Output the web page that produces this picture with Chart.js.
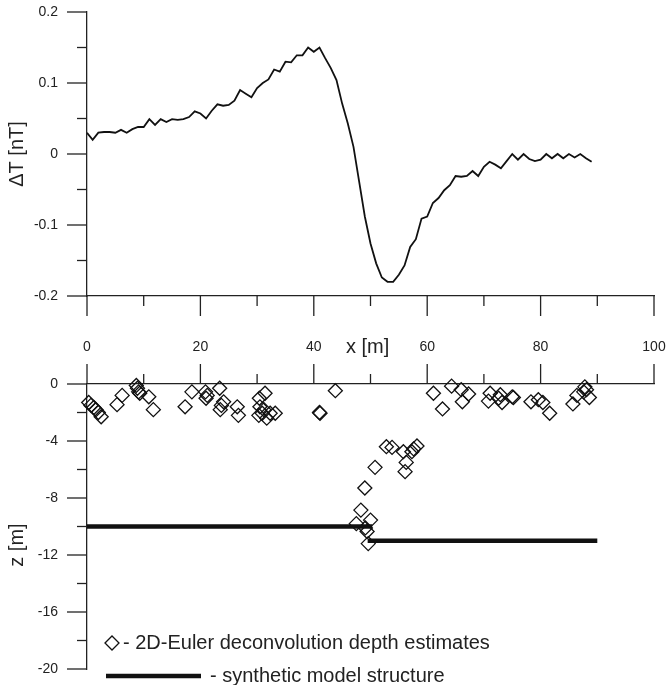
<!DOCTYPE html>
<html>
<head>
<meta charset="utf-8">
<script src="https://cdn.jsdelivr.net/npm/chart.js@4.4.0/dist/chart.umd.min.js"></script>
<style>
  body { margin: 0; background: #fff; }
  #wrap { position: relative; width: 668px; height: 685px; }
  #topChart { position: absolute; left: 0; top: 0; }
  #bottomChart { position: absolute; left: 0; top: 330px; }
</style>
</head>
<body>
<div id="wrap">
  <canvas id="topChart" width="668" height="330"></canvas>
  <canvas id="bottomChart" width="668" height="355"></canvas>
</div>
<script>
// magnetic anomaly profile (top panel)
const profileX = [0, 1, 2, 3, 4, 5, 6, 7, 8, 9, 10, 11, 12, 13, 14, 15, 16, 17, 18, 19,
  20, 21, 22, 23, 24, 25, 26, 27, 28, 29, 30, 31, 32, 33, 34, 35, 36, 37, 38, 39,
  40, 41, 42, 43, 44, 45, 46, 47, 48, 49, 50, 51, 52, 53, 54, 55, 56, 57, 58, 59,
  60, 61, 62, 63, 64, 65, 66, 67, 68, 69, 70, 71, 72, 73, 74, 75, 76, 77, 78, 79,
  80, 81, 82, 83, 84, 85, 86, 87, 88, 89];
const profileT = [0.030, 0.020, 0.030, 0.031, 0.031, 0.030, 0.034, 0.030, 0.035, 0.038,
  0.038, 0.049, 0.041, 0.049, 0.045, 0.049, 0.048, 0.049, 0.052, 0.060,
  0.057, 0.050, 0.061, 0.070, 0.068, 0.069, 0.075, 0.090, 0.085, 0.080,
  0.093, 0.100, 0.105, 0.119, 0.116, 0.130, 0.129, 0.139, 0.139, 0.150,
  0.144, 0.150, 0.135, 0.121, 0.104, 0.071, 0.043, 0.010, -0.039, -0.088,
  -0.126, -0.154, -0.174, -0.180, -0.180, -0.170, -0.157, -0.131, -0.120, -0.091,
  -0.088, -0.069, -0.062, -0.051, -0.044, -0.031, -0.032, -0.031, -0.024, -0.031,
  -0.018, -0.011, -0.015, -0.020, -0.010, 0.000, -0.008, 0.000, -0.007, -0.010,
  -0.008, 0.000, -0.006, 0.000, -0.006, 0.000, -0.005, 0.000, -0.006, -0.011];

// Euler depth estimates (bottom panel)
const eulerX = [0.3, 0.7, 1.2, 1.6, 2.0, 2.5, 5.3, 6.2, 8.7, 8.9, 9.1, 9.3, 10.9, 11.7,
  17.3, 18.5, 20.9, 21.2, 21.0, 23.4, 24.1, 23.5, 23.7, 26.5, 26.7,
  30.4, 31.4, 30.5, 30.9, 30.3, 31.7, 32.3, 33.2, 31.2, 41.1, 41.0, 43.8,
  52.8, 53.8, 55.8, 57.3, 58.2, 57.6, 56.3, 56.1, 50.8, 49.0, 48.3, 50.0, 47.5, 49.1, 49.4, 49.6,
  61.1, 62.7, 64.3, 66.0, 66.2, 67.3, 71.1, 70.8, 72.9, 73.2, 72.6, 75.2, 75.0,
  78.3, 79.6, 80.4, 81.6, 85.7, 86.4, 87.8, 88.1, 87.6, 88.6];
const eulerZ = [-1.3, -1.5, -1.65, -1.8, -2.0, -2.3, -1.45, -0.8, -0.1, -0.3, -0.55, -0.65, -0.9, -1.8,
  -1.6, -0.55, -0.55, -0.8, -1.0, -0.3, -1.25, -1.8, -1.5, -1.6, -2.2,
  -1.0, -0.65, -1.6, -2.05, -2.2, -2.4, -2.05, -2.05, -1.8, -2.05, -2.0, -0.47,
  -4.4, -4.45, -4.75, -4.75, -4.35, -4.55, -5.5, -6.15, -5.85, -7.3, -8.85, -9.55, -9.8, -10.1, -10.35, -11.2,
  -0.65, -1.75, -0.15, -0.4, -1.25, -0.7, -0.65, -1.2, -0.75, -1.3, -1.0, -0.95, -0.9,
  -1.25, -1.1, -1.3, -2.05, -1.4, -0.8, -0.2, -0.4, -0.55, -0.95];

// synthetic model structure
const modelUpperX = [0, 50.3];
const modelUpperZ = [-10, -10];
const modelLowerX = [49.5, 90];
const modelLowerZ = [-11, -11];

const FONT = "'Liberation Sans', Arial, sans-serif";
const INK = "#111";
const AXIS_COLOR = "#222";

const toPoints = (xs, ys) => xs.map((x, i) => ({ x: x, y: ys[i] }));

// invisible tick space so labels sit away from the axis (ticks.padding would shrink the plot)
const spacer = (len) => ({
  display: true,
  drawOnChartArea: false,
  drawTicks: true,
  tickLength: len,
  tickColor: "rgba(0,0,0,0)",
  color: "rgba(0,0,0,0)",
});

// major / minor tick marks drawn from the scales
const tickMarks = {
  id: "tickMarks",
  afterDraw(chart, args, opts) {
    const ctx = chart.ctx;
    const area = chart.chartArea;
    ctx.save();
    ctx.strokeStyle = AXIS_COLOR;
    ctx.lineWidth = 1.3;
    opts.axes.forEach((a) => {
      const scale = chart.scales[a.id];
      const n = Math.round((scale.max - scale.min) / a.minor);
      for (let i = 0; i <= n; i++) {
        const v = scale.min + i * a.minor;
        const isMajor = Math.abs(v / a.major - Math.round(v / a.major)) < 1e-6;
        const len = isMajor ? 20 : 10;
        const p = scale.getPixelForValue(v);
        ctx.beginPath();
        if (a.side === "left") {
          ctx.moveTo(area.left, p);
          ctx.lineTo(area.left - len, p);
        } else if (a.side === "bottom") {
          ctx.moveTo(p, area.bottom);
          ctx.lineTo(p, area.bottom + len);
        } else {
          ctx.moveTo(p, area.top);
          ctx.lineTo(p, area.top - len);
        }
        ctx.stroke();
      }
    });
    ctx.restore();
  },
};

// axis titles and legend of the lower panel
const lowerDecor = {
  id: "lowerDecor",
  afterDraw(chart) {
    const ctx = chart.ctx;
    const xs = chart.scales.x;
    const ys = chart.scales.y;
    const area = chart.chartArea;
    ctx.save();
    ctx.fillStyle = "#222";
    ctx.font = "20px " + FONT;
    ctx.textBaseline = "middle";
    ctx.textAlign = "center";
    ctx.fillText("x [m]", xs.getPixelForValue(49.5), area.top - 37);

    ctx.save();
    ctx.translate(17, ys.getPixelForValue(-11.3));
    ctx.rotate(-Math.PI / 2);
    ctx.fillText("z [m]", 0, 0);
    ctx.restore();

    // legend
    ctx.textAlign = "left";
    const ly1 = area.bottom - 26;
    const ly2 = area.bottom + 7;
    ctx.strokeStyle = INK;
    ctx.lineWidth = 1.3;
    ctx.beginPath();
    ctx.moveTo(105, ly1);
    ctx.lineTo(112, ly1 - 7);
    ctx.lineTo(119, ly1);
    ctx.lineTo(112, ly1 + 7);
    ctx.closePath();
    ctx.stroke();
    ctx.fillText("- 2D-Euler deconvolution depth estimates", 123, ly1);

    ctx.lineWidth = 4.5;
    ctx.beginPath();
    ctx.moveTo(106, ly2);
    ctx.lineTo(201, ly2);
    ctx.stroke();
    ctx.fillText("- synthetic model structure", 210, ly2);
    ctx.restore();
  },
};

Chart.defaults.font.family = FONT;
Chart.defaults.color = "#222";

new Chart(document.getElementById("topChart"), {
  type: "line",
  data: {
    datasets: [
      {
        data: toPoints(profileX, profileT),
        borderColor: INK,
        borderWidth: 1.8,
        pointRadius: 0,
        tension: 0,
        fill: false,
      },
    ],
  },
  options: {
    responsive: false,
    animation: false,
    layout: { padding: { top: 12, right: 14, bottom: 0, left: 0 } },
    plugins: {
      legend: { display: false },
      tooltip: { enabled: false },
      tickMarks: {
        axes: [
          { id: "y", side: "left", minor: 0.05, major: 0.1 },
          { id: "x", side: "bottom", minor: 10, major: 20 },
        ],
      },
    },
    scales: {
      x: {
        type: "linear",
        min: 0,
        max: 100,
        position: "bottom",
        grid: { display: false, drawTicks: false },
        border: { display: true, color: AXIS_COLOR, width: 1.3 },
        ticks: { display: false, stepSize: 10, padding: 0 },
        afterFit: (s) => { s.height = 34; },
      },
      y: {
        min: -0.2,
        max: 0.2,
        grid: spacer(29),
        border: { display: true, color: AXIS_COLOR, width: 1.3 },
        ticks: {
          stepSize: 0.1,
          padding: 0,
          font: { size: 14 },
          callback: (v) => String(+v.toFixed(1)),
        },
        title: {
          display: true,
          text: "ΔT [nT]",
          font: { size: 20 },
          padding: { top: 5, bottom: 0 },
        },
        afterFit: (s) => { s.width = 87; },
      },
    },
  },
  plugins: [tickMarks],
});

new Chart(document.getElementById("bottomChart"), {
  type: "scatter",
  data: {
    datasets: [
      {
        data: toPoints(eulerX, eulerZ),
        pointStyle: "rectRot",
        pointRadius: 7,
        borderColor: INK,
        borderWidth: 1.3,
        backgroundColor: "rgba(0,0,0,0)",
        clip: false,
      },
      {
        type: "line",
        data: toPoints(modelUpperX, modelUpperZ),
        borderColor: INK,
        borderWidth: 4.5,
        pointRadius: 0,
        clip: false,
      },
      {
        type: "line",
        data: toPoints(modelLowerX, modelLowerZ),
        borderColor: INK,
        borderWidth: 4.5,
        pointRadius: 0,
        clip: false,
      },
    ],
  },
  options: {
    responsive: false,
    animation: false,
    layout: { padding: { top: 0, right: 14, bottom: 16, left: 0 } },
    plugins: {
      legend: { display: false },
      tooltip: { enabled: false },
      tickMarks: {
        axes: [
          { id: "y", side: "left", minor: 2, major: 4 },
          { id: "x", side: "top", minor: 10, major: 20 },
        ],
      },
    },
    scales: {
      x: {
        type: "linear",
        min: 0,
        max: 100,
        position: "top",
        grid: spacer(28),
        border: { display: true, color: AXIS_COLOR, width: 1.3 },
        ticks: { stepSize: 20, padding: 0, font: { size: 14 } },
        afterFit: (s) => { s.height = 54; },
      },
      y: {
        min: -20,
        max: 0,
        grid: spacer(29),
        border: { display: true, color: AXIS_COLOR, width: 1.3 },
        ticks: { stepSize: 4, padding: 0, font: { size: 14 } },
        afterFit: (s) => { s.width = 87; },
      },
    },
  },
  plugins: [tickMarks, lowerDecor],
});
</script>
</body>
</html>
